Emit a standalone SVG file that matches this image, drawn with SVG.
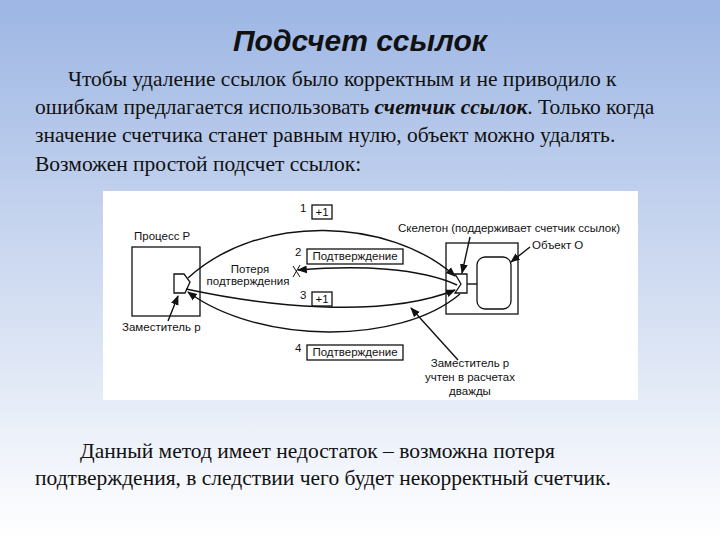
<svg xmlns="http://www.w3.org/2000/svg" width="720" height="540" viewBox="0 0 720 540">
<defs>
<linearGradient id="bg" x1="0" y1="0" x2="0" y2="1"><stop offset="0" stop-color="#9db6e4"/><stop offset="0.55" stop-color="#d3def2"/><stop offset="1" stop-color="#ffffff"/></linearGradient>
<marker id="ah" viewBox="0 0 10 10" refX="9" refY="5" markerWidth="7" markerHeight="7" orient="auto-start-reverse"><path d="M0,1 L10,5 L0,9 Z" fill="#111"/></marker>
<style>
.t{font-family:"Liberation Serif",serif;font-size:21.5px;fill:#111}
.d{font-family:"Liberation Sans",sans-serif;font-size:11.5px;fill:#111}
.b{fill:#fff;stroke:#111;stroke-width:1.3}
.c{fill:none;stroke:#111;stroke-width:1.4}
</style>
</defs>
<rect width="720" height="540" fill="url(#bg)"/>
<text x="360" y="51" text-anchor="middle" font-family="Liberation Sans,sans-serif" font-size="30" font-weight="bold" font-style="italic" fill="#111">Подсчет ссылок</text>
<text class="t" x="68" y="86">Чтобы удаление ссылок было корректным и не приводило к</text>
<text class="t" x="35" y="114">ошибкам предлагается использовать <tspan font-weight="bold" font-style="italic">счетчик ссылок</tspan>. Только когда</text>
<text class="t" x="35" y="142">значение счетчика станет равным нулю, объект можно удалять.</text>
<text class="t" x="35" y="171">Возможен простой подсчет ссылок:</text>
<text class="t" x="80" y="458">Данный метод имеет недостаток – возможна потеря</text>
<text class="t" x="35" y="485">подтверждения, в следствии чего будет некорректный счетчик.</text>
<rect x="103" y="191" width="535" height="209" fill="#fff"/>
<g id="processP"><rect class="b" x="132" y="247" width="68" height="69"/><text class="d" x="134" y="240">Процесс P</text></g>
<g id="proxy"><path class="b" d="M174,274 H184 L190,282 L185,293 H174 Z"/><text class="d" x="122" y="331">Заместитель p</text></g>
<g id="server"><rect class="b" x="446" y="243" width="72" height="71"/></g>
<g id="skeleton"><path class="b" d="M455,274 H467 V293 H455 L461,284 Z"/><text class="d" x="398" y="232">Скелетон (поддерживает счетчик ссылок)</text></g>
<g id="object"><rect class="b" x="477" y="257" width="34" height="52" rx="8"/><text class="d" x="532" y="249">Объект О</text></g>
<g id="m1"><text class="d" x="300" y="212">1</text><rect class="b" x="312" y="205" width="20" height="14"/><text class="d" x="322" y="216" text-anchor="middle">+1</text></g>
<g id="m2"><text class="d" x="295" y="256">2</text><rect class="b" x="307" y="249" width="96" height="15"/><text class="d" x="355" y="260" text-anchor="middle">Подтверждение</text></g>
<g id="m3"><text class="d" x="300" y="299">3</text><rect class="b" x="312" y="292" width="20" height="14"/><text class="d" x="322" y="303" text-anchor="middle">+1</text></g>
<g id="m4"><text class="d" x="295" y="352">4</text><rect class="b" x="307" y="345" width="96" height="15"/><text class="d" x="355" y="356" text-anchor="middle">Подтверждение</text></g>
<g id="loss"><text class="d" x="250" y="273" text-anchor="middle">Потеря</text><text class="d" x="248" y="285" text-anchor="middle">подтверждения</text></g>
<g id="note"><text class="d" x="470" y="367" text-anchor="middle">Заместитель р</text><text class="d" x="470" y="381" text-anchor="middle">учтен в расчетах</text><text class="d" x="470" y="395" text-anchor="middle">дважды</text></g>
<g id="connectors">
<path class="c" d="M188,278 C260,212 390,218 455,276" marker-end="url(#ah)"/>
<path class="c" d="M457,285 C420,268 360,265 298,270" marker-end="url(#ah)"/>
<path d="M293,266 L300,277 M300,265 L293,277" stroke="#111" stroke-width="1"/>
<path class="c" d="M186,289 C260,305 380,320 455,290" marker-end="url(#ah)"/>
<path class="c" d="M460,294 C400,345 260,345 188,292" marker-end="url(#ah)"/>
<path class="c" d="M467,284 H477"/>
<path class="c" d="M470,237 L462,273" marker-end="url(#ah)"/>
<path class="c" d="M530,247 L511,262" marker-end="url(#ah)"/>
<path class="c" d="M168,321 L178,296" marker-end="url(#ah)"/>
<path class="c" d="M458,360 L411,308" marker-end="url(#ah)"/>
</g>
</svg>
